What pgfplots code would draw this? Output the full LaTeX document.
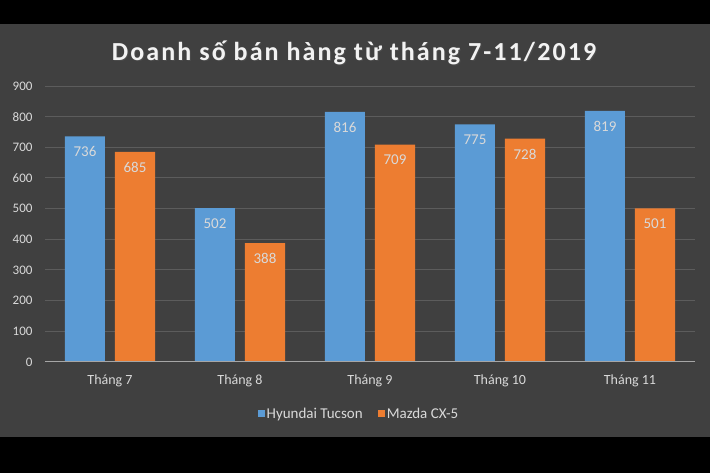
\documentclass[border=0pt]{standalone}
\usepackage{fontspec}
\setmainfont{Carlito}
\usepackage{pgfplots}
\pgfplotsset{compat=1.18}
\definecolor{bgg}{HTML}{404040}
\definecolor{gridc}{HTML}{5C5C5C}
\definecolor{zeroc}{HTML}{A6A6A6}
\definecolor{txt}{HTML}{D9D9D9}
\definecolor{ttl}{HTML}{F2F2F2}
\definecolor{cblue}{HTML}{5B9BD5}
\definecolor{corange}{HTML}{ED7D31}
\begin{document}
\begin{tikzpicture}[x=1pt,y=1pt]
\fill[black] (0,0) rectangle (710,473);
\fill[bgg] (0,36) rectangle (710,449);
\node[text=black!70, font=\fontsize{26}{30}\selectfont\bfseries\addfontfeatures{LetterSpace=8}] at (355,419.5) {Doanh số bán hàng từ tháng 7-11/2019};
\node[text=ttl, font=\fontsize{26}{30}\selectfont\bfseries\addfontfeatures{LetterSpace=8}] at (354,420.5) {Doanh số bán hàng từ tháng 7-11/2019};
\begin{axis}[
  at={(45pt,111pt)}, anchor=south west,
  scale only axis, width=650pt, height=276pt,
  /pgf/number format/assume math mode=true,
  ybar=10pt, bar width=40pt,
  xmin=-0.5, xmax=4.5, ymin=0, ymax=900,
  ytick={0,100,...,900},
  xtick=data,
  xticklabels={Tháng 7,Tháng 8,Tháng 9,Tháng 10,Tháng 11},
  major tick length=0pt,
  axis line style={draw=none},
  ymajorgrids, grid style={color=gridc, line width=1pt},
  ticklabel style={text=txt},
  yticklabel style={font=\fontsize{13}{15}\selectfont, xshift=-9pt},
  xticklabel style={font=\fontsize{14}{16}\selectfont, yshift=-9pt},
  nodes near coords,
  every node near coord/.append style={anchor=north, yshift=-7pt, text=txt, font=\fontsize{15}{17}\selectfont},
  legend columns=2,
  legend style={at={(0.483,-0.188)}, anchor=center, draw=none, fill=none, text=txt,
    font=\fontsize{15}{17}\selectfont, /tikz/every even column/.append style={column sep=13pt}},
  legend image code/.code={\fill[#1] (0pt,-3.5pt) rectangle (7pt,3.5pt);},
]
\addplot[fill=cblue, draw=none] coordinates {(0,736) (1,502) (2,816) (3,775) (4,819)};
\addplot[fill=corange, draw=none] coordinates {(0,685) (1,388) (2,709) (3,728) (4,501)};
\legend{Hyundai Tucson, Mazda CX-5}
\draw[zeroc, line width=1.5pt] (axis cs:-0.5,0) -- (axis cs:4.5,0);
\end{axis}
\end{tikzpicture}
\end{document}
